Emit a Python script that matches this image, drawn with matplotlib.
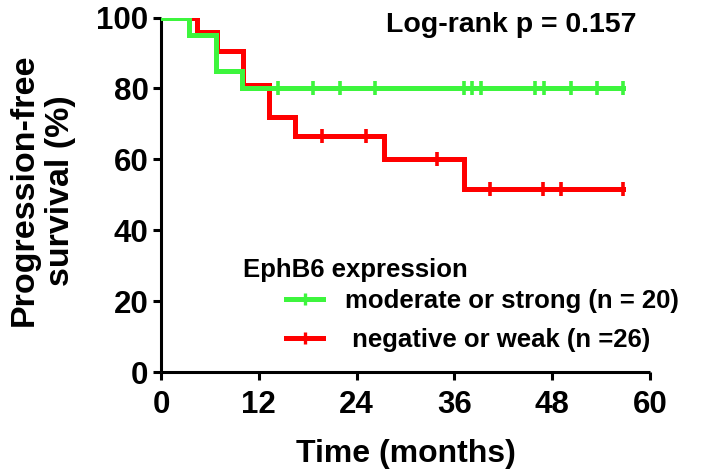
import numpy as np
import matplotlib
matplotlib.use("Agg")
import matplotlib.pyplot as plt
from matplotlib.lines import Line2D

plt.rcParams['font.family'] = ['Liberation Sans', 'DejaVu Sans']
plt.rcParams['font.weight'] = 'bold'

# Kaplan-Meier step data
green_times = [0, 3.4, 6.8, 9.9, 56.7]
green_surv = [100, 95, 85, 80, 80]
green_censor = [14.3, 18.7, 22.0, 26.3, 37.2, 38.2, 39.3, 45.9, 47.0, 50.3, 53.5, 56.7]

red_times = [0, 4.4, 6.9, 10.1, 13.2, 16.5, 27.4, 37.2, 56.7]
red_surv = [100, 96, 90.5, 81, 71.8, 66.5, 60, 51.6, 51.6]
red_censor = [19.8, 25.2, 33.9, 40.4, 46.9, 49.1, 56.7]

green_label = "moderate or strong (n = 20)"
red_label = " negative or weak (n =26)"
legend_title = "EphB6 expression"
pvalue_text = "Log-rank p = 0.157"
x_ticks = [0, 12, 24, 36, 48, 60]
y_ticks = [0, 20, 40, 60, 80, 100]

GREEN = "#3DF53D"
RED = "#FF0000"


def level_at(times, surv, t):
    idx = np.searchsorted(times, t, side='right') - 1
    return np.asarray(surv)[idx]


fig = plt.figure(figsize=(7.18, 4.72), dpi=100)
ax = fig.add_axes([161 / 718, 1 - 372 / 472, (650 - 161) / 718, (372 - 17.5) / 472])

lw = 3.6
ax.step(red_times, red_surv, where='post', color=RED, lw=lw, solid_joinstyle='miter', zorder=3)
ax.plot(red_censor, level_at(red_times, red_surv, red_censor), ls='none', marker='|',
        ms=10, mew=2.6, color=RED, zorder=3)
ax.step(green_times, green_surv, where='post', color=GREEN, lw=lw, solid_joinstyle='miter', zorder=4)
ax.plot(green_censor, level_at(green_times, green_surv, green_censor), ls='none', marker='|',
        ms=10, mew=2.6, color=GREEN, zorder=4)

ax.set_xlim(0, 60)
ax.set_ylim(0, 100)
ax.set_xticks(x_ticks)
ax.set_yticks(y_ticks)
for s in ['top', 'right']:
    ax.spines[s].set_visible(False)
for s in ['left', 'bottom']:
    ax.spines[s].set_linewidth(2.2)
    ax.spines[s].set_capstyle('butt')
ax.tick_params(axis='both', which='major', length=6, width=2.2, direction='out',
               labelsize=22.5)
ax.tick_params(axis='x', pad=7)
ax.tick_params(axis='y', pad=3)
for lab in ax.get_xticklabels() + ax.get_yticklabels():
    lab.set_fontweight('bold')

ax.set_xlabel("Time (months)", fontsize=23, fontweight='bold')
ax.xaxis.set_label_coords(0.5, -0.19)
ax.set_ylabel("Progression-free\nsurvival (%)", fontsize=24.5, fontweight='bold',
              linespacing=1.2, va='center')
ax.yaxis.set_label_coords(-0.243, 0.513)

fig.text(511 / 718, 1 - 25 / 472, pvalue_text, ha='center', va='center',
         fontsize=20.5, fontweight='bold')

fig.text(243 / 718, 1 - 270 / 472, legend_title, ha='left', va='center',
         fontsize=18.5, fontweight='bold')
leg = ax.legend([Line2D([], [], color=GREEN, lw=lw, marker='|', ms=9, mew=2.4),
                 Line2D([], [], color=RED, lw=lw, marker='|', ms=9, mew=2.4)],
                [green_label, red_label], loc='upper left',
                bbox_to_anchor=(286 / 718, 1 - 289 / 472), bbox_transform=fig.transFigure,
                frameon=False, fontsize=18.5, handlelength=1.45, handletextpad=0.85,
                labelspacing=0.57, borderaxespad=0, borderpad=0, numpoints=1)
for t in leg.get_texts():
    t.set_fontweight('bold')

fig.savefig("out.png", dpi=100)
